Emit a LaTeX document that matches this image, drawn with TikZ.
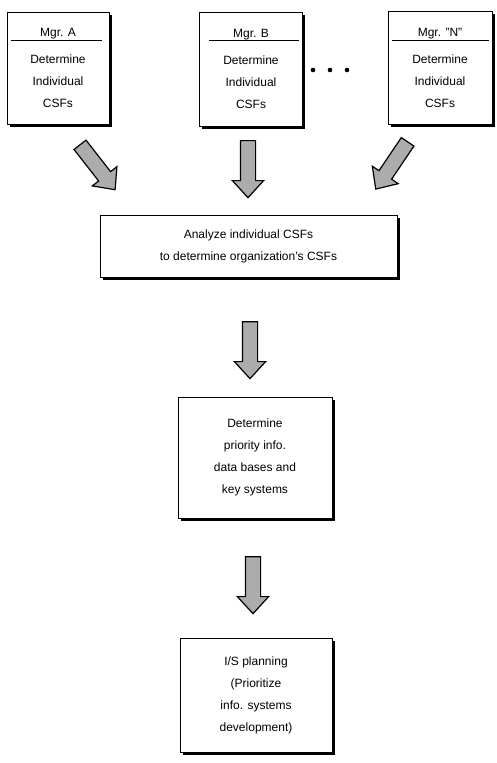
\documentclass[tikz,border=0pt]{standalone}
\usepackage{fontspec}
\setmainfont{Liberation Sans}
\usetikzlibrary{shapes,arrows,positioning,shadows}

\begin{document}
\begin{tikzpicture}[x=1pt,y=-1pt,every node/.style={font=\fontsize{12}{22}\selectfont},
	box/.style={draw, rectangle, line width=1pt, fill=white, align=center, inner sep=0pt, drop shadow={shadow xshift=2.5pt, shadow yshift=-2.5pt, opacity=1, fill=black}},
	flow/.style={draw, single arrow, line width=1.2pt, fill=gray!65, minimum height=57pt, minimum width=31pt, single arrow head extend=8pt, single arrow tip angle=85, inner sep=7pt}]
	\useasboundingbox (0,0) rectangle (496,763);
	\node[box, minimum width=102pt, minimum height=112pt] (mgrA) at (58,68) {Mgr. A\\[5pt]Determine\\Individual\\CSFs};
	\node[box, minimum width=103pt, minimum height=114pt] (mgrB) at (251,69) {Mgr. B\\[5pt]Determine\\Individual\\CSFs};
	\node[box, minimum width=104pt, minimum height=113pt] (mgrN) at (440,68) {Mgr. ''N''\\[5pt]Determine\\Individual\\CSFs};
	\draw[line width=0.8pt] ([xshift=4pt,yshift=-29pt]mgrA.north west) -- ([xshift=-8pt,yshift=-29pt]mgrA.north east);
	\draw[line width=0.8pt] ([xshift=10pt,yshift=-29pt]mgrB.north west) -- ([xshift=-4pt,yshift=-29pt]mgrB.north east);
	\draw[line width=0.8pt] ([xshift=4pt,yshift=-29pt]mgrN.north west) -- ([xshift=-4pt,yshift=-29pt]mgrN.north east);
	\foreach \x in {313,330,347} \fill (\x,70) circle (2.3pt);
	\node[flow, rotate=-52] (arrA) at (95,164) {};
	\node[flow, rotate=-90] (arrB) at (248,165) {};
	\node[flow, rotate=-124] (arrN) at (394,162) {};
	\node[box, minimum width=297pt, minimum height=62pt] (analyze) at (248.5,246) {Analyze individual CSFs\\to determine organization's CSFs};
	\node[flow, rotate=-90] (arr2) at (250,346) {};
	\node[box, minimum width=154pt, minimum height=121pt] (priority) at (255,457.5) {Determine\\priority info.\\data bases and\\key systems};
	\node[flow, rotate=-90] (arr3) at (253,581) {};
	\node[box, minimum width=152pt, minimum height=114pt] (planning) at (256,695) {I/S planning\\(Prioritize\\info. systems\\development)};
\end{tikzpicture}
\end{document}
